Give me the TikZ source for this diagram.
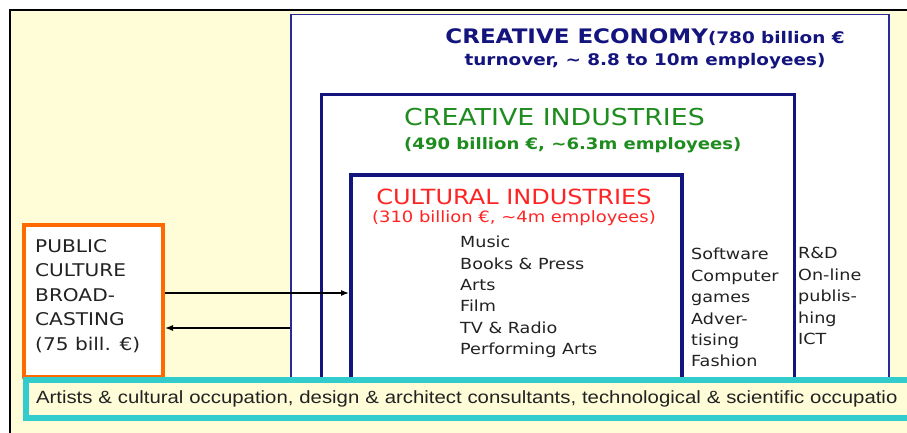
\documentclass[tikz,border=0pt]{standalone}
\usepackage{fontspec}
\usetikzlibrary{arrows.meta}
\newfontfamily\boxfont[FakeStretch=1.15]{DejaVu Sans}
\newfontfamily\bandfont[FakeStretch=1.15]{Liberation Sans}
\definecolor{bgyellow}{HTML}{FFFDD8}
\definecolor{navy}{HTML}{14147F}
\definecolor{frameblue}{HTML}{2A2A96}
\definecolor{ciGreen}{HTML}{1E8C1E}
\definecolor{culRed}{HTML}{FF2424}
\definecolor{pubOrange}{HTML}{FF6A00}
\definecolor{bandCyan}{HTML}{33CCCC}
\definecolor{listGray}{HTML}{222222}

\begin{document}
\begin{tikzpicture}[x=1pt,y=-1pt,
  box/.style={draw,fill=white,anchor=north west,inner sep=0},
  list/.style={inner sep=0,text=listGray,align=left,anchor=north west}]
\useasboundingbox (0,0) rectangle (907,433);
\clip (0,0) rectangle (907,433);
\fill[bgyellow] (10,10) rectangle (907,433);
\draw[line width=2] (10,440) -- (10,10) -- (910,10);

% nested boxes
\node[box,draw=frameblue,line width=1.5,minimum width=598,minimum height=400] (econ) at (290,14) {};
\node[box,draw=navy,line width=3,minimum width=473,minimum height=320] (creat) at (320,93) {};
\node[box,draw=navy,line width=4,minimum width=331,minimum height=240] (cult) at (349,173) {};
\node[box,draw=pubOrange,line width=4,minimum width=139,minimum height=152] (pub) at (22,223) {};

% titles
\node[inner sep=0,font=\boxfont\bfseries\fontsize{16}{22}\selectfont,text=navy,align=center] (econT) at (645,49)
  {{\fontsize{20}{22}\selectfont CREATIVE ECONOMY}(780 billion €\\turnover, \textasciitilde{} 8.8 to 10m employees)};
\node[inner sep=0,font=\boxfont\fontsize{23.3}{25}\selectfont,text=ciGreen,anchor=west] (creatT) at (404,117) {CREATIVE INDUSTRIES};
\node[inner sep=0,font=\boxfont\bfseries\fontsize{15.7}{20}\selectfont,text=ciGreen,anchor=west] (creatS) at (404,145) {(490 billion €, \textasciitilde6.3m employees)};
\node[inner sep=0,font=\boxfont\fontsize{20.9}{22}\selectfont,text=culRed] (cultT) at (514,197) {CULTURAL INDUSTRIES};
\node[inner sep=0,font=\boxfont\fontsize{15.6}{18}\selectfont,text=culRed] (cultS) at (514,218) {(310 billion €, \textasciitilde4m employees)};

% contents
\node[list,font=\boxfont\fontsize{15.3}{21.3}\selectfont] (cultL) at (460,236)
  {Music\\Books \& Press\\Arts\\Film\\TV \& Radio\\Performing Arts};
\node[list,font=\boxfont\fontsize{15.3}{21.4}\selectfont] (creatL) at (691,248)
  {Software\\Computer\\games\\Adver-\\tising\\Fashion};
\node[list,font=\boxfont\fontsize{15.3}{21.5}\selectfont] (econL) at (798,247)
  {R\&D\\On-line\\publis-\\hing\\ICT};
\node[list,font=\boxfont\fontsize{17.5}{24.5}\selectfont] (pubL) at (35,239)
  {PUBLIC\\CULTURE\\BROAD-\\CASTING\\(75 bill. €)};

\draw[line width=1.2,-{Latex[length=8pt,width=6pt]}] ([yshift=8]pub.east) -- ([yshift=8]pub.east -| cult.west);
\draw[line width=1.2,{Latex[length=8pt,width=6pt]}-] ([yshift=-27]pub.east) -- ([yshift=-27]pub.east -| econ.west);

% occupations band
\node[draw=bandCyan,line width=6,fill=bgyellow,anchor=north west,inner xsep=10,inner ysep=0,
  minimum height=38,text width=950,align=left,text=listGray,
  font=\bandfont\fontsize{17.7}{20}\selectfont] (band) at (23,377)
  {Artists \& cultural occupation, design \& architect consultants, technological \& scientific occupatio};
\end{tikzpicture}
\end{document}
